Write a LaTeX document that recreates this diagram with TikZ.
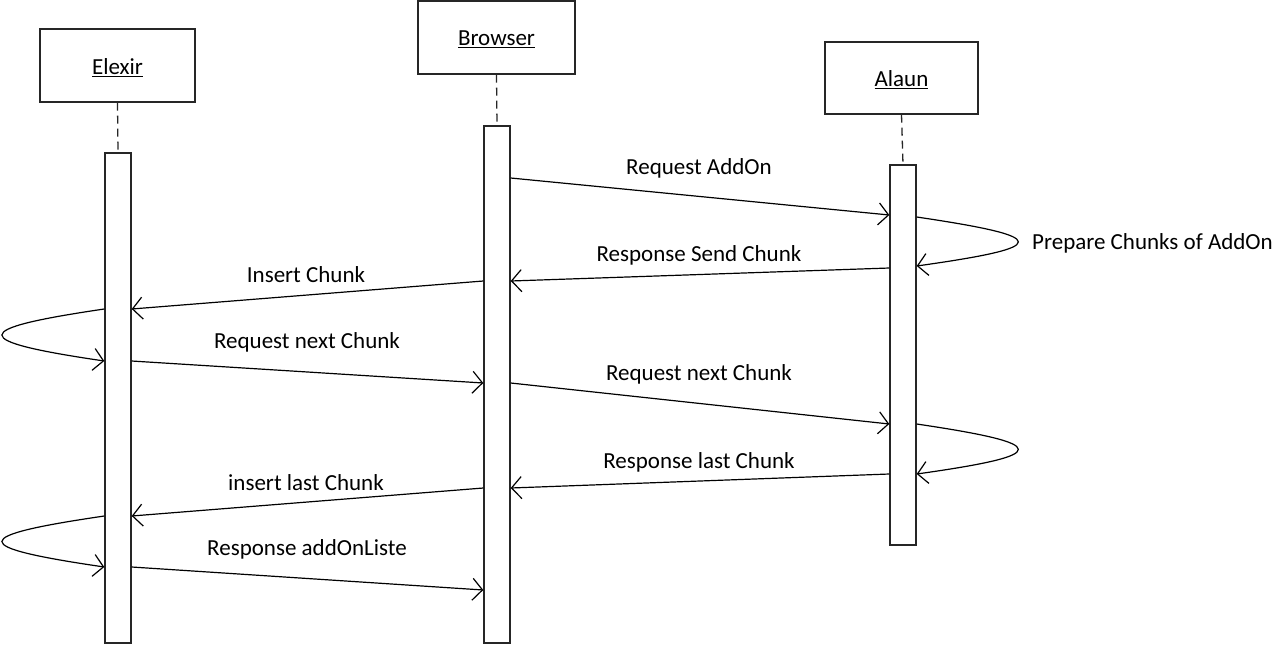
\documentclass[tikz,border=0pt]{standalone}
\usepackage{fontspec}
\setmainfont{Carlito}
\usetikzlibrary{arrows.meta}
\begin{document}
\begin{tikzpicture}[x=1pt,y=-1pt,
  actor/.style={draw=black!85,line width=1.4pt,fill=white,inner sep=0pt,font=\fontsize{23}{27}\selectfont},
  act/.style={draw=black!85,line width=1.4pt,fill=white,inner sep=0pt,minimum width=26pt},
  life/.style={draw=black!85,line width=1.3pt,dash pattern=on 8pt off 5pt},
  msg/.style={line width=1.2pt,-{Straight Barb[length=10pt,width=22pt,line width=1.2pt]}},
  lbl/.style={font=\fontsize{23}{27}\selectfont,inner sep=0pt}]
\useasboundingbox (0,0) rectangle (1272,646);
\fill[white] (0,0) rectangle (1272,646);
% actors
\node[actor,minimum width=155pt,minimum height=73pt] (E) at (117.5,65.5) {};
\node[actor,minimum width=157pt,minimum height=73pt] (B) at (496.5,37.5) {};
\node[actor,minimum width=153pt,minimum height=72pt] (A) at (901.5,78) {};
\node[lbl] (tE) at (117.5,68) {\underline{Elexir}};
\node[lbl] (tB) at (496.5,39) {\underline{Browser}};
\node[lbl] (tA) at (901.5,79.5) {\underline{Alaun}};
% activations
\node[act,minimum height=490pt] (aE) at (118,398) {};
\node[act,minimum height=517pt] (aB) at (497,384.5) {};
\node[act,minimum height=380pt] (aA) at (903,355) {};
% lifelines
\draw[life] (E.south) -- (aE.north);
\draw[life] (B.south) -- (aB.north);
\draw[life] (A.south) -- (aA.north);
% y levels
\coordinate (y1) at (0,178);
\coordinate (y2) at (0,215);
\coordinate (y3) at (0,217);
\coordinate (y4) at (0,266);
\coordinate (y5) at (0,268);
\coordinate (y6) at (0,281);
\coordinate (y7) at (0,309);
\coordinate (y8) at (0,361);
\coordinate (y9) at (0,383);
\coordinate (y10) at (0,424);
\coordinate (y11) at (0,474);
\coordinate (y12) at (0,488);
\coordinate (y13) at (0,516);
\coordinate (y14) at (0,567);
\coordinate (y15) at (0,590);
% messages
\draw[msg] (aB.east |- y1) -- (aA.west |- y2);
\draw[msg] (aA.east |- y3) .. controls (1052,237) and (1052,247) .. (aA.east |- y4);
\draw[msg] (aA.west |- y5) -- (aB.east |- y6);
\draw[msg] (aB.west |- y6) -- (aE.east |- y7);
\draw[msg] (aE.west |- y7) .. controls (-32,329) and (-32,341) .. (aE.west |- y8);
\draw[msg] (aE.east |- y8) -- (aB.west |- y9);
\draw[msg] (aB.east |- y9) -- (aA.west |- y10);
\draw[msg] (aA.east |- y10) .. controls (1052,444) and (1052,455) .. (aA.east |- y11);
\draw[msg] (aA.west |- y11) -- (aB.east |- y12);
\draw[msg] (aB.west |- y12) -- (aE.east |- y13);
\draw[msg] (aE.west |- y13) .. controls (-32,536) and (-32,547) .. (aE.west |- y14);
\draw[msg] (aE.east |- y14) -- (aB.west |- y15);
% labels
\node[lbl] (l1) at (699,168.5) {Request AddOn};
\node[lbl,anchor=west] (l2) at (1032,243.5) {Prepare Chunks of AddOn};
\node[lbl] (l3) at (699,255.5) {Response Send Chunk};
\node[lbl] (l4) at (306,274.5) {Insert Chunk};
\node[lbl] (l5) at (307,342.5) {Request next Chunk};
\node[lbl] (l6) at (699,374.5) {Request next Chunk};
\node[lbl] (l7) at (699,462.5) {Response last Chunk};
\node[lbl] (l8) at (306,482.5) {insert last Chunk};
\node[lbl] (l9) at (307,549.5) {Response addOnListe};
\end{tikzpicture}
\end{document}
